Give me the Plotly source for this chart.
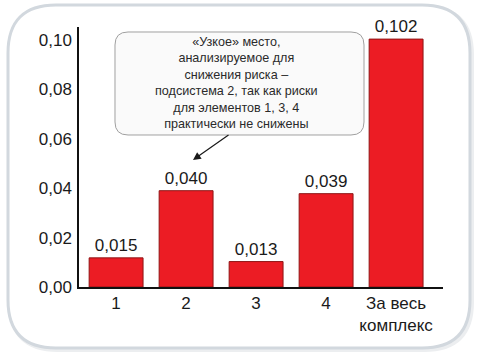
import plotly.graph_objects as go

categories = ["1", "2", "3", "4", "За весь<br>комплекс"]
bar_heights = [0.0118, 0.0390, 0.0103, 0.0378, 0.1004]
value_labels = ["0,015", "0,040", "0,013", "0,039", "0,102"]
tick_vals = [0.00, 0.02, 0.04, 0.06, 0.08, 0.10]
callout_lines = [
    "«Узкое» место,",
    "анализируемое для",
    "снижения риска –",
    "подсистема 2, так как риски",
    "для элементов 1, 3, 4",
    "практически не снижены",
]

W, H = 480, 355
ML, MR, MT, MB = 79, 37, 27, 68
PW, PH = W - ML - MR, H - MT - MB


def px(x):
    return (x - ML) / PW


def py(y):
    return (H - MB - y) / PH


def rounded_path(x0, y0, x1, y1, r):
    pts = [
        ("M", px(x0 + r), py(y0)),
        ("L", px(x1 - r), py(y0)),
        ("Q", px(x1), py(y0), px(x1), py(y0 + r)),
        ("L", px(x1), py(y1 - r)),
        ("Q", px(x1), py(y1), px(x1 - r), py(y1)),
        ("L", px(x0 + r), py(y1)),
        ("Q", px(x0), py(y1), px(x0), py(y1 - r)),
        ("L", px(x0), py(y0 + r)),
        ("Q", px(x0), py(y0), px(x0 + r), py(y0)),
    ]
    s = ""
    for p in pts:
        cmd = p[0]
        coords = p[1:]
        s += cmd + " " + ",".join(f"{c:.5f}" for c in coords) + " "
    return s + "Z"


FONT = "Liberation Sans, Arial, sans-serif"

fig = go.Figure(
    go.Bar(
        x=categories,
        y=bar_heights,
        width=0.77,
        marker=dict(color="#ec1c24", line=dict(color="#8f1515", width=1)),
        text=value_labels,
        textposition="outside",
        textfont=dict(family=FONT, size=17, color="#1a1a1a"),
        cliponaxis=False,
    )
)

shapes = [
    # shadow of outer frame
    dict(type="path", xref="paper", yref="paper", layer="below",
         path=rounded_path(10, 7, 472, 350, 48),
         line=dict(color="#eceef0", width=4), fillcolor="rgba(0,0,0,0)"),
    # outer frame
    dict(type="path", xref="paper", yref="paper", layer="below",
         path=rounded_path(8, 5, 470, 348, 48),
         line=dict(color="#d2d8de", width=3), fillcolor="#ffffff"),
    # callout box
    dict(type="path", xref="paper", yref="paper", layer="above",
         path=rounded_path(115, 32, 364, 135, 13),
         line=dict(color="#a0a0a0", width=1), fillcolor="#fafafa"),
]

annotations = [
    dict(xref="paper", yref="paper", x=px(236), y=py(83),
         text="<br>".join(callout_lines), showarrow=False, align="center",
         xanchor="center", yanchor="middle",
         font=dict(family=FONT, size=12.6, color="#2a2a2a")),
    dict(xref="paper", yref="paper", x=px(193), y=py(160),
         ax=37, ay=-26, axref="pixel", ayref="pixel", text="",
         showarrow=True, arrowhead=2, arrowsize=1.3, arrowwidth=1.2,
         arrowcolor="#1a1a1a"),
]

fig.update_layout(
    width=W, height=H,
    margin=dict(l=ML, r=MR, t=MT, b=MB),
    paper_bgcolor="#ffffff", plot_bgcolor="rgba(0,0,0,0)",
    separators=",.",
    showlegend=False,
    shapes=shapes,
    annotations=annotations,
    font=dict(family=FONT, size=17, color="#1a1a1a"),
    xaxis=dict(range=[-0.53, 4.67], showline=True, linecolor="#111111", linewidth=1.5,
               ticks="", showgrid=False, zeroline=False,
               tickfont=dict(family=FONT, size=17, color="#1a1a1a")),
    yaxis=dict(range=[0, 0.1053], showline=True, linecolor="#111111", linewidth=1.5,
               ticks="", showgrid=False, zeroline=False,
               tickvals=tick_vals, tickformat=".2f", ticklabelstandoff=2,
               tickfont=dict(family=FONT, size=17, color="#1a1a1a")),
)

fig.write_html("out.html")
